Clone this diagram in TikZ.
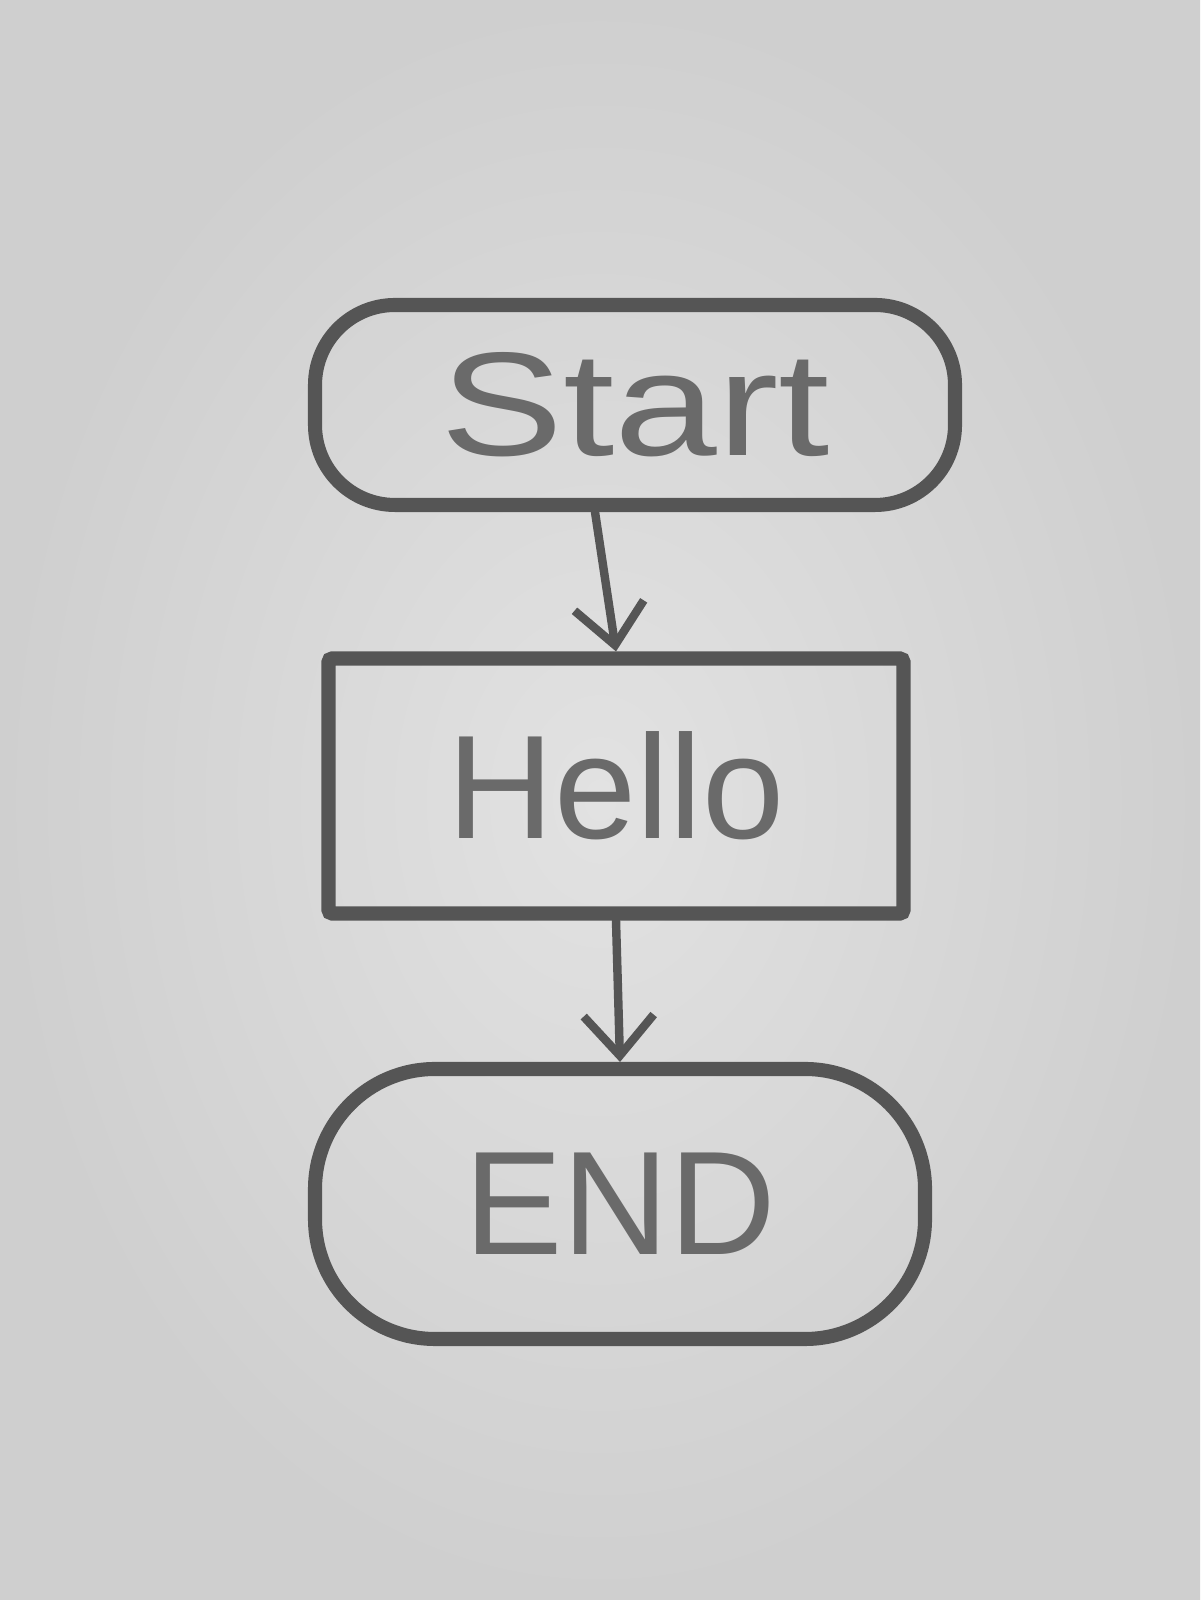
\documentclass[tikz,border=0pt]{standalone}
\usepackage{fontspec}
\setmainfont{Liberation Sans}
\newfontfamily\widehand[FakeStretch=1.25]{Liberation Sans}
\usetikzlibrary{arrows.meta,positioning}
\definecolor{paperlt}{HTML}{E2E2E2}
\definecolor{paperdk}{HTML}{CFCFCF}
\definecolor{pencil}{HTML}{555555}
\definecolor{graphite}{HTML}{6A6A6A}
\tikzset{
  term/.style={rectangle,draw=pencil,line width=4pt,text=graphite,align=center,
               font=\fontsize{42}{46}\selectfont,inner sep=0pt},
  proc/.style={term,rounded corners=1pt},
  fl/.style={-{Straight Barb[length=4mm,width=7mm]},line width=2.4pt,draw=pencil,line cap=round},
}
\begin{document}
\begin{tikzpicture}[node distance=13mm]
\shade[inner color=paperlt,outer color=paperdk] (0,0) rectangle (12,16);
\useasboundingbox (0,0) rectangle (12,16);
\node[term,rounded corners=8mm,minimum width=6.4cm,minimum height=2.0cm] (s) at (6.35,11.95) {\widehand Start};
\node[proc,minimum width=5.75cm,minimum height=2.55cm] (h) at (6.16,8.14) {Hello};
\node[term,rounded corners=12mm,minimum width=6.1cm,minimum height=2.7cm] (e) at (6.20,3.96) {END};
\draw[fl]([xshift=-4mm]s.south)--(h.north);
\draw[fl](h.south)--(e.north);
\end{tikzpicture}
\end{document}
